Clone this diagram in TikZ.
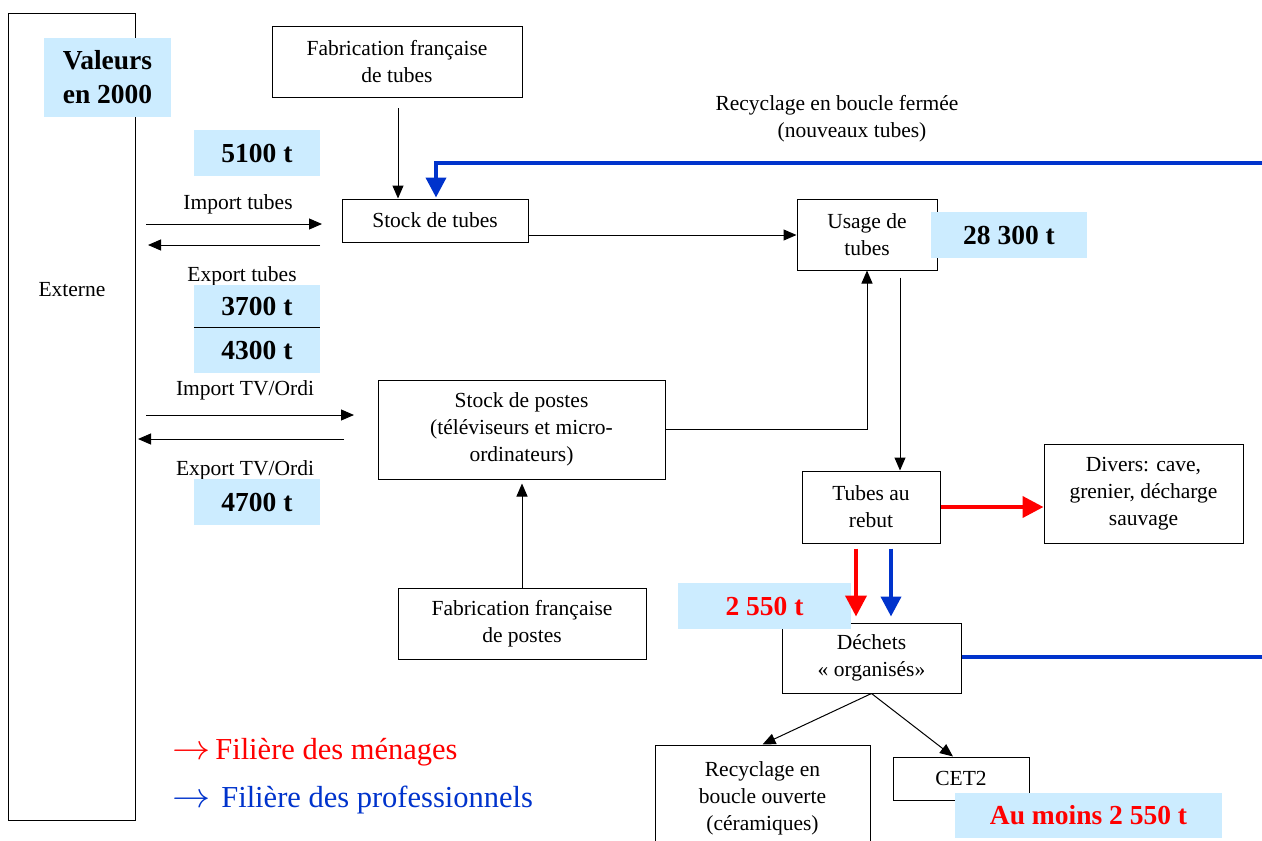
\RequirePackage{fix-cm}
\documentclass[tikz,border=0pt]{standalone}
\usepackage{fontspec}
\setmainfont{Liberation Serif}
\usetikzlibrary{arrows.meta}
\definecolor{valbg}{HTML}{CCECFF}
\definecolor{problue}{HTML}{0033CC}
\definecolor{menred}{HTML}{FF0000}
\newcommand{\legarrow}{\scalebox{1.25}[1.15]{$\rightarrow$}}

\begin{document}
\begin{tikzpicture}[x=1pt,y=-1pt,
  box/.style={draw, line width=1pt, inner sep=0pt, align=center,
    font=\fontsize{21.5}{27}\selectfont},
  val/.style={fill=valbg, inner sep=0pt, align=center,
    font=\fontsize{27.5}{34}\selectfont\bfseries},
  lbl/.style={inner sep=0pt, align=center, font=\fontsize{21.5}{27}\selectfont},
  legend/.style={inner sep=0pt, anchor=west, font=\fontsize{30.5}{34}\selectfont},
  arr/.style={line width=1pt, -{Triangle[length=13pt,width=11pt]}},
  redarr/.style={draw=menred, line width=4pt,
    -{Triangle[length=21pt,width=21pt]}},
  bluearr/.style={draw=problue, line width=4pt,
    -{Triangle[length=20pt,width=20pt]}},
  blueline/.style={draw=problue, line width=4pt},
]
\useasboundingbox (0,0) rectangle (1262,841);

% --- boxes -------------------------------------------------------------
\node[box, minimum width=127pt, minimum height=807pt] (ext) at (71.5,416.5) {};
\node[lbl] (exttxt) at (72,290) {Externe};

\node[box, minimum width=250pt, minimum height=71pt] (fabt) at (397,61.5)
  {Fabrication française\\de tubes};
\node[box, minimum width=186pt, minimum height=43pt] (stubes) at (435,220.5)
  {Stock de tubes};
\node[box, minimum width=140pt, minimum height=71pt] (usage) at (867,234.5)
  {Usage de\\tubes};
\node[box, minimum width=287pt, minimum height=99pt] (spostes) at (521.5,429.5)
  {Stock de postes\\(téléviseurs et micro-\\ordinateurs)};
\node[box, minimum width=248pt, minimum height=71pt] (fabp) at (522,623.5)
  {Fabrication française\\de postes};
\node[box, minimum width=138pt, minimum height=72pt] (rebut) at (871,507)
  {Tubes au\\rebut};
\node[box, minimum width=199pt, minimum height=99pt] (divers) at (1143.5,493.5)
  {Divers: cave,\\grenier, décharge\\sauvage};
\node[box, minimum width=179pt, minimum height=70pt] (dechets) at (871.5,658)
  {Déchets\\« organisés»};
\node[box, minimum width=215pt, minimum height=106pt] (recyo) at (762.5,798)
  {Recyclage en\\boucle ouverte\\(céramiques)};
\node[box, minimum width=136pt, minimum height=43pt] (cet2) at (961,778.5)
  {CET2};

% --- flow labels ---------------------------------------------------------
\node[lbl] (recycf) at (837,118.5)
  {Recyclage en boucle fermée\\\hspace*{30pt}(nouveaux tubes)};
\node[lbl] (importt) at (238,204) {Import tubes};
\node[lbl] (exportt) at (242,276) {Export tubes};
\node[lbl] (importtv) at (245,390) {Import TV/Ordi};
\node[lbl] (exporttv) at (245,470) {Export TV/Ordi};

% --- quantities ----------------------------------------------------------
\node[val, minimum width=127pt, minimum height=79pt] (valeurs) at (107.5,77.5)
  {Valeurs\\en 2000};
\node[val, minimum width=126pt, minimum height=46pt] (v5100) at (257,153) {5100 t};
\node[val, minimum width=126pt, minimum height=42pt] (v3700) at (257,306) {3700 t};
\node[val, minimum width=126pt, minimum height=46pt] (v4300) at (257,350) {4300 t};
\draw[line width=1pt] (v3700.south west) -- (v3700.south east);
\node[val, minimum width=126pt, minimum height=46pt] (v4700) at (257,502) {4700 t};
\node[val, minimum width=156pt, minimum height=46pt] (v28300) at (1009,235) {28 300 t};
\node[val, minimum width=173pt, minimum height=46pt, text=menred] (v2550)
  at (764.5,606) {2 550 t};
\node[val, minimum width=267pt, minimum height=45pt, text=menred] (vmoins)
  at (1088.5,815.5) {Au moins 2 550 t};

% --- exchanges with the outside -------------------------------------------
\coordinate (it1) at (146,224); \coordinate (it2) at (322,224);
\coordinate (et1) at (320,245); \coordinate (et2) at (148,245);
\coordinate (iv1) at (146,415); \coordinate (iv2) at (354,415);
\coordinate (ev1) at (344,439); \coordinate (ev2) at (138,439);
\draw[arr] (it1) -- (it2);
\draw[arr] (et1) -- (et2);
\draw[arr] (iv1) -- (iv2);
\draw[arr] (ev1) -- (ev2);

% --- internal flows ------------------------------------------------------
\coordinate (ft) at (398,108);
\draw[arr] (ft) -- (ft |- stubes.north);
\draw[arr] (stubes.east |- 0,235) -- (usage.west |- 0,235);
\draw[arr] (spostes.east) -| (usage.south);
\draw[arr, shorten >=4pt] (fabp.north) -- (fabp.north |- spostes.south);
\draw[arr, shorten <=7pt] (usage.south -| 900,0) -- (rebut.north -| 900,0);
\draw[arr] (dechets.south) -- (recyo.north);
\draw[arr] (dechets.south) -- (cet2.north -| 953,0);

% --- household stream (red) -----------------------------------------------
\draw[redarr] (rebut.east) -- (rebut.east -| divers.west);
\draw[redarr, shorten <=5pt, shorten >=6pt] (rebut.south -| 856,0) -- (dechets.north -| 856,0);

% --- professional stream (blue) -------------------------------------------
\draw[bluearr, shorten <=5pt, shorten >=6pt] (rebut.south -| 891,0) -- (dechets.north -| 891,0);
\coordinate (bfar) at (1262,163);
\draw[bluearr, shorten >=1pt] (bfar) -| (stubes.north -| 436,0);
\coordinate (bfar2) at (1262,657);
\draw[blueline] (dechets.east |- 0,657) -- (bfar2);

% --- legend --------------------------------------------------------------
\node[legend, text=menred] (legm) at (172,752) {\legarrow\hspace{5pt}Filière des ménages};
\node[legend, text=problue] (legp) at (172,800) {\legarrow\hspace{11pt}Filière des professionnels};
\end{tikzpicture}
\end{document}
